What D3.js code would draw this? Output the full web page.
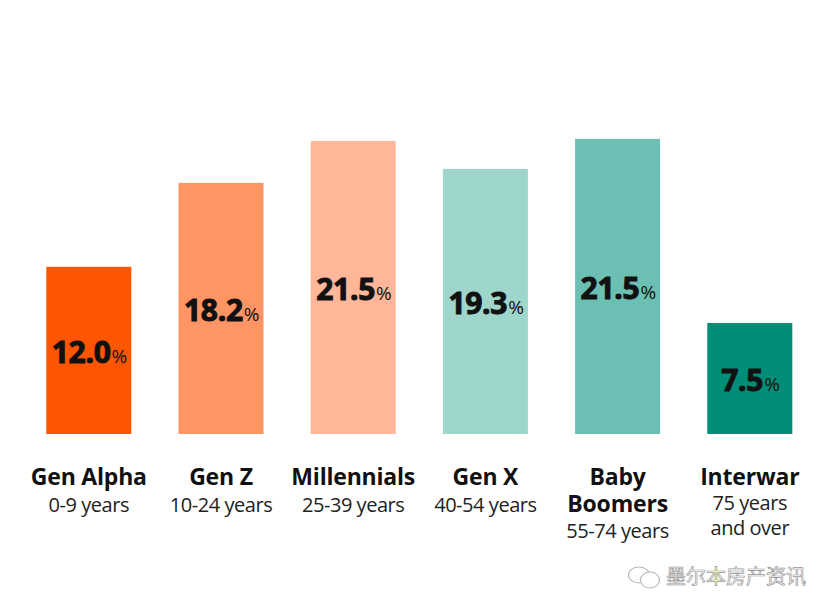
<!DOCTYPE html>
<html><head><meta charset="utf-8">
<script src="https://cdn.jsdelivr.net/npm/d3@7/dist/d3.min.js"></script>
<style>html,body{margin:0;padding:0;background:#fff}svg{display:block}</style>
</head><body><div id="c"></div>
<script>
const categories = ["Gen Alpha","Gen Z","Millennials","Gen X","Baby Boomers","Interwar"];
const nameLines = [["Gen Alpha"],["Gen Z"],["Millennials"],["Gen X"],["Baby","Boomers"],["Interwar"]];
const ageLines = [["0-9 years"],["10-24 years"],["25-39 years"],["40-54 years"],["55-74 years"],["75 years","and over"]];
const labelValues = [12.0,18.2,21.5,19.3,21.5,7.5];
// heights as drawn in the picture (the drawn bars are not exactly proportional to their labels)
const drawnValues = [12.15,18.25,21.3,19.27,21.45,8.07];
const colors = ["#ff5500","#ff9465","#ffb699","#9fd6cc","#6bc0b3","#008e78"];

const W=832,H=612;
const svg=d3.select("#c").append("svg").attr("width",W).attr("height",H);
const x=d3.scaleBand().domain(categories).range([-0.9,839.5]).paddingInner(0.357).paddingOuter(0.357);
const y=d3.scaleLinear().domain([0,25]).range([434,90]);
const font="'Open Sans','Noto Sans',sans-serif";

svg.selectAll("rect.bar").data(categories).join("rect").attr("class","bar")
  .attr("x",d=>x(d)).attr("width",x.bandwidth())
  .attr("y",(d,i)=>y(drawnValues[i])).attr("height",(d,i)=>y(0)-y(drawnValues[i]))
  .attr("fill",(d,i)=>colors[i]);

const lab=svg.selectAll("text.val").data(categories).join("text").attr("class","val")
  .attr("x",d=>x(d)+x.bandwidth()/2+0.5)
  .attr("y",(d,i)=>(y(drawnValues[i])+y(0))/2+12.5)
  .attr("text-anchor","middle").attr("font-family",font).attr("fill","#111");
lab.append("tspan").attr("font-size",30).attr("font-weight",700).attr("letter-spacing",-0.3)
  .attr("stroke","#111").attr("stroke-width",1)
  .text((d,i)=>labelValues[i].toFixed(1));
lab.append("tspan").attr("font-size",19).attr("font-weight",400).attr("dx",1).attr("letter-spacing",-0.5).text("%");

categories.forEach((c,i)=>{
  const cx=x(c)+x.bandwidth()/2;
  let yy=485;
  nameLines[i].forEach(t=>{
    svg.append("text").attr("class","name").attr("x",cx).attr("y",yy).attr("text-anchor","middle")
      .attr("font-family",font).attr("font-size",23).attr("font-weight",700).attr("fill","#111")
      .attr("letter-spacing",-0.2).text(t);
    yy+=27;
  });
});
const ageBase=[[512],[512],[512],[512],[538],[510],[535]];
categories.forEach((c,i)=>{
  const cx=x(c)+x.bandwidth()/2;
  ageLines[i].forEach((t,j)=>{
    svg.append("text").attr("class","age").attr("x",cx).attr("y",ageBase[i+j]).attr("text-anchor","middle")
      .attr("font-family",font).attr("font-size",20).attr("font-weight",400).attr("fill","#222")
      .attr("letter-spacing",-0.45).text(t);
  });
});

// watermark
const wm=svg.append("g").attr("fill","none").attr("stroke","#b5b5b5").attr("stroke-width",1.1);
wm.append("ellipse").attr("cx",639).attr("cy",575).attr("rx",10.5).attr("ry",8);
wm.append("ellipse").attr("cx",650).attr("cy",580).attr("rx",9.5).attr("ry",8).attr("fill","#fff");
svg.append("text").attr("x",666).attr("y",584).attr("font-family","'Noto Sans CJK SC'")
  .attr("font-size",20).attr("fill","#fff").attr("stroke","#999").attr("stroke-width",0.7)
  .text("墨尔本房产资讯");
</script></body></html>
